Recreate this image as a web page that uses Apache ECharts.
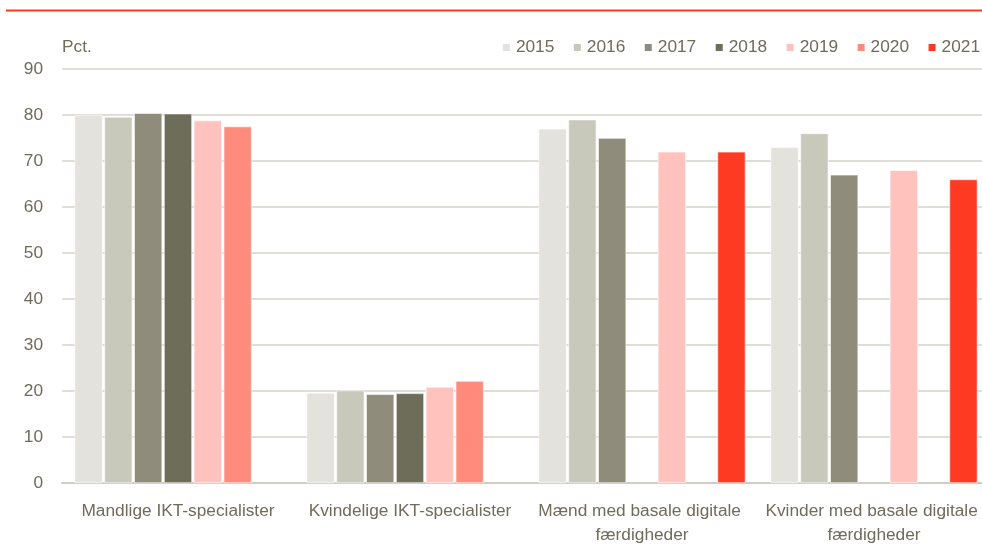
<!DOCTYPE html>
<html>
<head>
<meta charset="utf-8">
<script src="https://cdn.jsdelivr.net/npm/echarts@6/dist/echarts.min.js"></script>
<style>
html,body{margin:0;padding:0;background:#fff;overflow:hidden;width:982px;height:551px;}
#chart{width:990px;height:551px;}
</style>
</head>
<body>
<div id="chart"></div>
<script>
var categories = ['Mandlige IKT-specialister', 'Kvindelige IKT-specialister', 'Mænd med basale digitale færdigheder', 'Kvinder med basale digitale færdigheder'];
var years = ['2015', '2016', '2017', '2018', '2019', '2020', '2021'];
var v2015 = [80, 19.6, 77, 73];
var v2016 = [79.6, 20.1, 79, 76];
var v2017 = [80.4, 19.3, 75, 67];
var v2018 = [80.3, 19.5, null, null];
var v2019 = [78.8, 20.9, 72, 68];
var v2020 = [77.5, 22.2, null, null];
var v2021 = [null, null, 72, 66];
var yTicks = [0, 90, 10];
var colors = ['#e3e2dd', '#c8c8bb', '#8f8c7c', '#6e6d5a', '#ffc2bc', '#ff8b7d', '#ff3a22'];
var values = [v2015, v2016, v2017, v2018, v2019, v2020, v2021];

var textColor = '#6f6c5c';
var font = '"Liberation Sans", Arial, sans-serif';
var fs = 17.3;

var chart = echarts.init(document.getElementById('chart'), null, {renderer: 'canvas'});
var series = years.map(function (y, i) {
  return {
    name: y,
    type: 'bar',
    data: values[i],
    barWidth: 28,
    barGap: '6.5%',
    itemStyle: {color: colors[i], borderColor: '#ffffff', borderWidth: 0.6},
    emphasis: {disabled: true}
  };
});

chart.setOption({
  animation: false,
  color: colors,
  textStyle: {fontFamily: font},
  graphic: [{
    type: 'line',
    shape: {x1: 6, y1: 10.5, x2: 990, y2: 10.5},
    style: {stroke: '#ff3a22', lineWidth: 2}
  }],
  legend: {
    data: years,
    right: 5,
    top: 34,
    itemWidth: 9,
    itemHeight: 9,
    itemGap: 17.5,
    icon: 'rect',
    textStyle: {color: textColor, fontSize: fs, fontFamily: font, padding: [0, 0, 0, 0]}
  },
  grid: {left: 62, top: 69, right: 0, bottom: 68, containLabel: false},
  xAxis: {
    type: 'category',
    data: categories,
    axisLine: {show: true, lineStyle: {color: '#cfcec4', width: 2}},
    axisTick: {show: false},
    axisLabel: {
      color: textColor, fontSize: fs, fontFamily: font, margin: 16,
      lineHeight: 24, width: 226, overflow: 'break', interval: 0
    }
  },
  yAxis: {
    type: 'value',
    min: yTicks[0],
    max: yTicks[1],
    interval: yTicks[2],
    name: 'Pct.',
    nameLocation: 'end',
    nameGap: 22,
    nameTextStyle: {color: textColor, fontSize: fs, fontFamily: font, align: 'left', verticalAlign: 'middle'},
    axisLine: {show: false},
    axisTick: {show: false},
    axisLabel: {color: textColor, fontSize: fs, fontFamily: font, margin: 19},
    splitLine: {lineStyle: {color: '#d3d2c8', width: 1.5}}
  },
  series: series
});
</script>
</body>
</html>
